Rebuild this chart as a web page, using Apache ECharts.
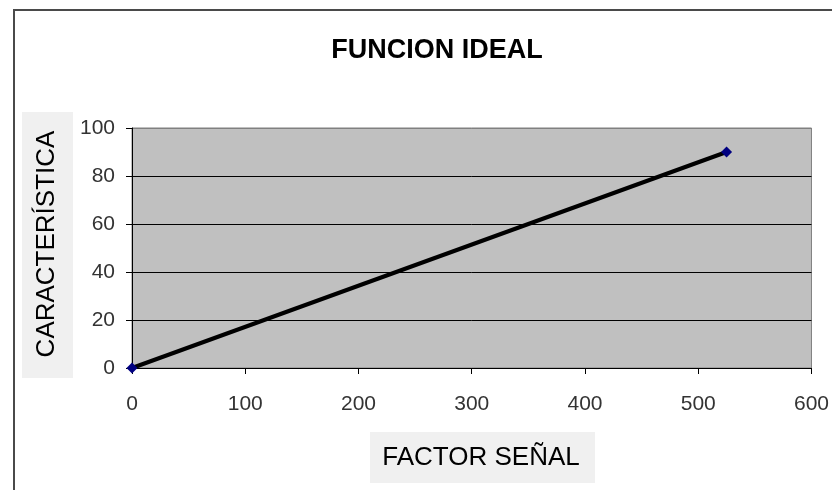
<!DOCTYPE html>
<html>
<head>
<meta charset="utf-8">
<style>
  html, body { margin: 0; padding: 0; background: #ffffff; }
  #chart { width: 832px; height: 490px; }
</style>
<script src="https://cdn.jsdelivr.net/npm/echarts@6/dist/echarts.min.js"></script>
</head>
<body>
<div id="chart"></div>
<script>
// Ideal response: characteristic against signal factor
const factorSenal = [0, 525];
const caracteristica = [0, 90];
const xTicks = [0, 100, 200, 300, 400, 500, 600];
const yTicks = [0, 20, 40, 60, 80, 100];
const chartTitle = 'FUNCION IDEAL';
const xTitle = 'FACTOR SEÑAL';
const yTitle = 'CARACTERÍSTICA';

const chart = echarts.init(document.getElementById('chart'));

const points = factorSenal.map((x, i) => [x, caracteristica[i]]);
const font = '"Liberation Sans", Arial, sans-serif';

// gridlines are black; the topmost one sits on the grey plot border
const gridColors = yTicks.map((v, i) => (i === yTicks.length - 1 ? '#808080' : '#000000'));

chart.setOption({
  animation: false,
  backgroundColor: '#ffffff',
  title: {
    text: chartTitle,
    left: 432,
    textAlign: 'center',
    top: 32,
    textStyle: {
      fontFamily: font,
      fontWeight: 'bold',
      fontSize: 27,
      color: '#000000'
    }
  },
  graphic: [
    // chart frame
    {
      type: 'rect',
      shape: { x: 14, y: 10, width: 840, height: 500 },
      style: { fill: 'none', stroke: '#4a4a4a', lineWidth: 2 },
      z: 100
    },
    // y axis title panel
    {
      type: 'rect',
      shape: { x: 22, y: 112, width: 51, height: 266 },
      style: { fill: '#f0f0f0' },
      z: 1
    },
    {
      type: 'text',
      x: 47,
      y: 244,
      rotation: Math.PI / 2,
      style: {
        text: yTitle,
        font: '26px ' + font,
        fill: '#000000',
        textAlign: 'center',
        textVerticalAlign: 'middle'
      },
      z: 2
    },
    // x axis title panel
    {
      type: 'rect',
      shape: { x: 370, y: 432, width: 225, height: 51 },
      style: { fill: '#f0f0f0' },
      z: 1
    },
    {
      type: 'text',
      x: 481,
      y: 458,
      style: {
        text: xTitle,
        font: '26px ' + font,
        fill: '#000000',
        textAlign: 'center',
        textVerticalAlign: 'middle'
      },
      z: 2
    }
  ],
  grid: {
    left: 132,
    right: 18,
    top: 128,
    bottom: 122,
    show: true,
    backgroundColor: '#c0c0c0',
    borderColor: '#808080',
    borderWidth: 1
  },
  xAxis: {
    type: 'value',
    min: xTicks[0],
    max: xTicks[xTicks.length - 1],
    interval: 100,
    axisLine: { show: true, onZero: false, lineStyle: { color: '#000000', width: 1 } },
    axisTick: { show: true, inside: false, length: 6, lineStyle: { color: '#000000' } },
    axisLabel: {
      margin: 26,
      fontFamily: font,
      fontSize: 21,
      color: '#333333'
    },
    splitLine: { show: false }
  },
  yAxis: {
    type: 'value',
    min: yTicks[0],
    max: yTicks[yTicks.length - 1],
    interval: 20,
    axisLine: { show: true, onZero: false, lineStyle: { color: '#000000', width: 1 } },
    axisTick: { show: true, inside: false, length: 6, lineStyle: { color: '#000000' } },
    axisLabel: {
      margin: 17,
      fontFamily: font,
      fontSize: 21,
      color: '#333333'
    },
    splitLine: { show: true, lineStyle: { color: gridColors, width: 1 } }
  },
  series: [
    {
      type: 'line',
      data: points,
      symbol: 'diamond',
      symbolSize: 11,
      itemStyle: { color: '#000080' },
      lineStyle: { color: '#000000', width: 4 },
      z: 3
    }
  ]
});
</script>
</body>
</html>
